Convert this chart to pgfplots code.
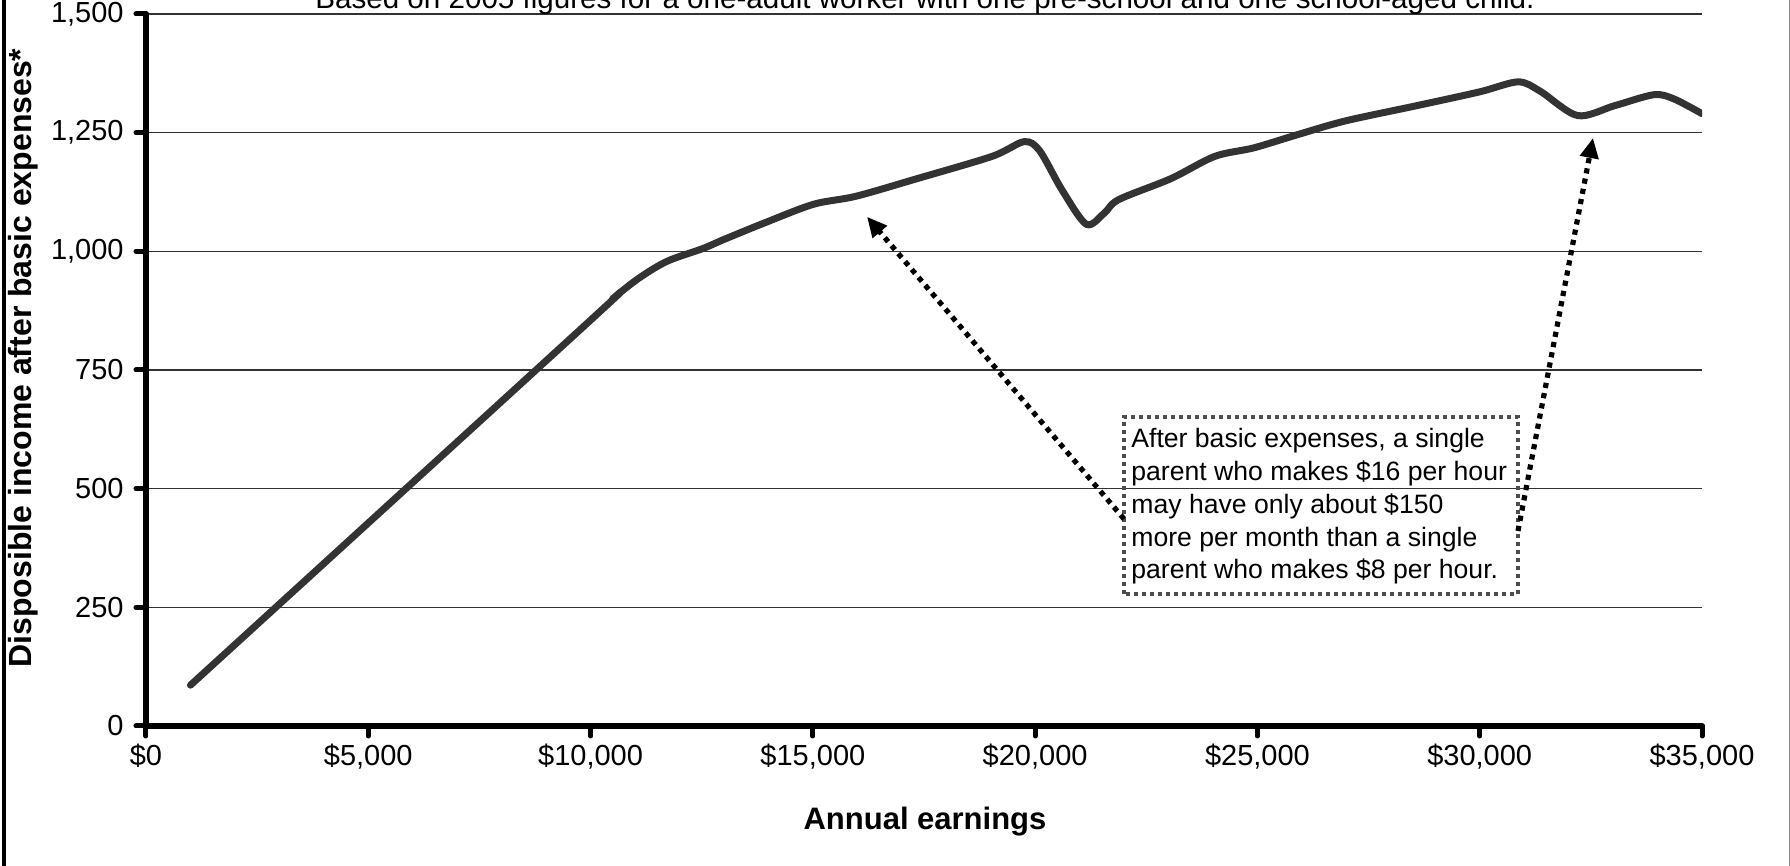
\documentclass[border=0pt]{standalone}
\usepackage{fontspec}
\setmainfont{Liberation Sans}
\usepackage{pgfplots}
\pgfplotsset{compat=1.18}
\usetikzlibrary{arrows.meta}
\definecolor{curve}{HTML}{333333}
\definecolor{gridc}{HTML}{333333}
\definecolor{boxc}{HTML}{4d4d4d}
\begin{document}
\begin{tikzpicture}
\useasboundingbox (-73pt,-70pt) rectangle (822pt,363pt);
\begin{axis}[
  at={(0pt,0pt)}, anchor=south west,
  scale only axis, width=778pt, height=356pt,
  xmin=0, xmax=35000, ymin=0, ymax=1500,
  axis lines*=left,
  axis line style={line width=3pt, black, line cap=round, -},
  scaled x ticks=false, scaled y ticks=false,
  xtick={0,5000,10000,15000,20000,25000,30000,35000},
  xticklabels={{\$0},{\$5,000},{\$10,000},{\$15,000},{\$20,000},{\$25,000},{\$30,000},{\$35,000}},
  ytick={0,250,500,750,1000,1250,1500},
  yticklabels={0,250,500,750,{1,000},{1,250},{1,500}},
  tick align=outside,
  major tick length=5pt,
  major tick style={line width=2.5pt, black, line cap=round},
  ymajorgrids, grid style={line width=0.6pt, gridc},
  tick label style={font=\fontsize{14.5}{16}\selectfont},
  /pgf/number format/assume math mode=true,
  yticklabel style={inner sep=0pt, xshift=-6pt},
  xticklabel style={inner sep=0pt, yshift=-4pt},
]
\addplot[smooth, tension=0.5, line width=3.5pt, color=curve, line cap=round, line join=round] coordinates {
(1000,86) (10000,855) (10500,900) (11080,943) (11720,979) (12530,1006) (13000,1025)
(13890,1059) (15010,1099) (15970,1116) (17340,1153) (19030,1200) (19750,1231)
(20100,1212) (20600,1130) (21150,1057) (21550,1080) (21880,1109)
(23050,1153) (24040,1200) (24920,1218) (25910,1246) (26990,1275) (28590,1307)
(30000,1336) (30860,1357) (31350,1338) (32200,1286)
(33040,1307) (33920,1330) (34370,1321) (35000,1290)
};
\end{axis}
\node[font=\bfseries\fontsize{15.5}{18}\selectfont] at (389.5pt,-48pt) {Annual earnings};
\node[rotate=90, font=\bfseries\fontsize{16}{18}\selectfont] at (-61.5pt,184pt) {Disposible income after basic expenses*};
\node[anchor=base, font=\fontsize{14.8}{17}\selectfont] at (389.5pt,358.5pt) {Based on 2005 figures for a one-adult worker with one pre-school and one school-aged child.};
\draw[boxc, line width=2pt, dash pattern=on 2pt off 2pt] (489pt,66pt) rectangle (686pt,154.5pt);
\node[anchor=north west, align=left, font=\fontsize{13.3}{16.4}\selectfont, inner sep=0pt] at (492.5pt,149pt) {After basic expenses, a single\\parent who makes \$16 per hour\\may have only about \$150\\more per month than a single\\parent who makes \$8 per hour.};
\draw[black, line width=2.6pt, dash pattern=on 2.6pt off 2.6pt, -{Triangle[length=10pt,width=9pt]}] (489pt,103.5pt) -- (360.5pt,254.6pt);
\draw[black, line width=2.6pt, dash pattern=on 2.6pt off 2.6pt, -{Triangle[length=10pt,width=9pt]}] (686pt,97.5pt) -- (723.5pt,294pt);
\draw[black, line width=2pt] (-71pt,-70pt) -- (-71pt,363pt);
\draw[black!45, line width=0.6pt] (821.7pt,-70pt) -- (821.7pt,363pt);
\end{tikzpicture}
\end{document}
